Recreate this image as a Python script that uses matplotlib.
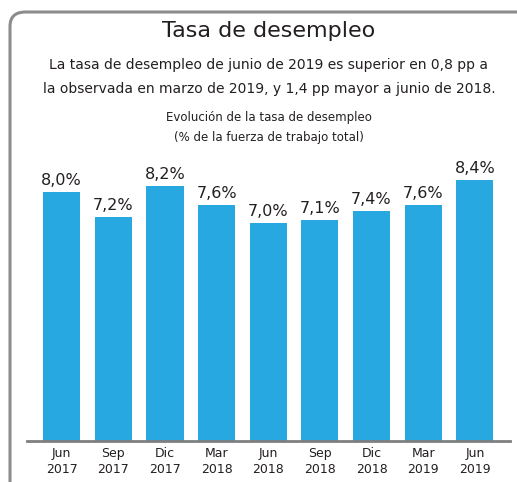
import matplotlib
matplotlib.use("Agg")
import matplotlib.pyplot as plt
from matplotlib.patches import FancyBboxPatch

periods = ["Jun\n2017", "Sep\n2017", "Dic\n2017", "Mar\n2018", "Jun\n2018",
           "Sep\n2018", "Dic\n2018", "Mar\n2019", "Jun\n2019"]
rates = [8.0, 7.2, 8.2, 7.6, 7.0, 7.1, 7.4, 7.6, 8.4]
labels = ["8,0%", "7,2%", "8,2%", "7,6%", "7,0%", "7,1%", "7,4%", "7,6%", "8,4%"]

bar_color = "#27A8E0"
text_color = "#231F20"
plt.rcParams['font.family'] = ['DejaVu Sans']

W, H = 517, 482
fig = plt.figure(figsize=(W / 100, H / 100), dpi=100)

# rounded frame around the chart (runs off the right and bottom edges)
frame = FancyBboxPatch((10 / W, -30 / H), 540 / W, (H - 12 + 30) / H,
                       boxstyle="round,pad=0,rounding_size=0.03",
                       transform=fig.transFigure, facecolor="none",
                       edgecolor="#8C8C8C", linewidth=2.2)
fig.patches.append(frame)

fig.text(0.52, 1 - 31 / H, "Tasa de desempleo", ha="center", va="center",
         fontsize=16, color=text_color)
fig.text(0.52, 1 - 65 / H, "La tasa de desempleo de junio de 2019 es superior en 0,8 pp a",
         ha="center", va="center", fontsize=10, color=text_color)
fig.text(0.52, 1 - 89 / H, "la observada en marzo de 2019, y 1,4 pp mayor a junio de 2018.",
         ha="center", va="center", fontsize=10, color=text_color)
fig.text(0.52, 1 - 118 / H, "Evolución de la tasa de desempleo",
         ha="center", va="center", fontsize=8.5, color=text_color)
fig.text(0.52, 1 - 138 / H, "(% de la fuerza de trabajo total)",
         ha="center", va="center", fontsize=8.5, color=text_color)

ax = fig.add_axes([27 / W, 1 - 441 / H, 483 / W, 280 / H])
x = range(len(rates))
ax.bar(x, rates, width=0.72, color=bar_color)
for xi, v, lab in zip(x, rates, labels):
    ax.text(xi, v + 0.12, lab, ha="center", va="bottom", fontsize=11.5,
            color=text_color)

ax.set_xlim(-0.67, 8.68)
ax.set_ylim(0, 9)
ax.set_xticks(list(x))
ax.set_xticklabels(periods, fontsize=9, color=text_color, linespacing=1.3)
ax.tick_params(axis="x", length=0, pad=4)
ax.set_yticks([])
for side in ["top", "right", "left"]:
    ax.spines[side].set_visible(False)
ax.spines["bottom"].set_color("#7F7F7F")
ax.spines["bottom"].set_linewidth(2)
ax.patch.set_visible(False)

fig.savefig("out.png", dpi=100)
